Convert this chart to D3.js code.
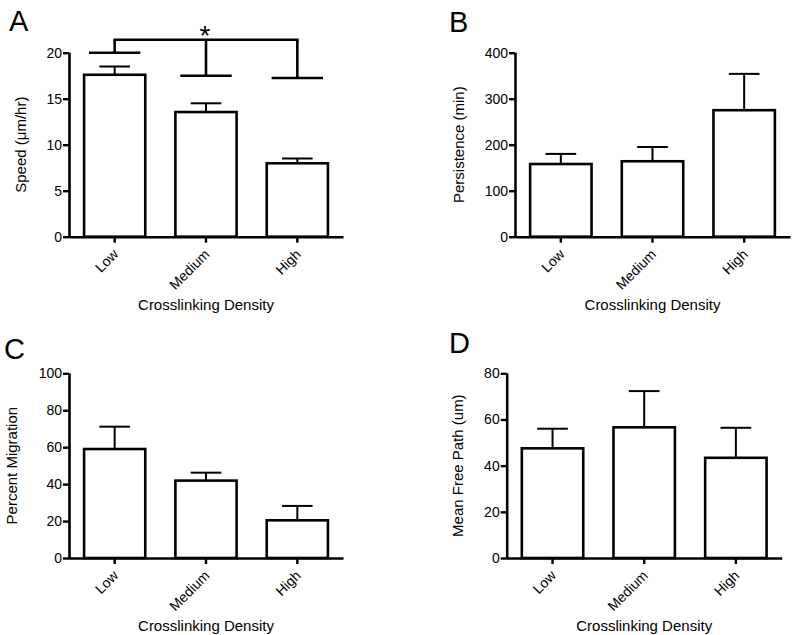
<!DOCTYPE html>
<html>
<head>
<meta charset="utf-8">
<script src="https://cdn.jsdelivr.net/npm/d3@7"></script>
<style>
  html, body { margin: 0; padding: 0; background: #fff; }
  svg { display: block; }
  text { font-family: "Liberation Sans", Arial, Helvetica, sans-serif; fill: #000; }
</style>
</head>
<body>
<svg id="chart" width="800" height="635"></svg>
<script>
// ---- Data ----
const categories = ["Low", "Medium", "High"];

const speedMean = [17.6, 13.55, 7.98];
const speedErr  = [0.9, 0.95, 0.52];
const speedTicks = [0, 5, 10, 15, 20];

const persistenceMean = [158, 164, 275];
const persistenceErr  = [22, 31, 79];
const persistenceTicks = [0, 100, 200, 300, 400];

const migrationMean = [59, 41.9, 20.4];
const migrationErr  = [12.1, 4.3, 7.8];
const migrationTicks = [0, 20, 40, 60, 80, 100];

const mfpMean = [47.5, 56.6, 43.4];
const mfpErr  = [8.5, 15.7, 13];
const mfpTicks = [0, 20, 40, 60, 80];

// significance bracket (panel A): drop levels per category, and top level
const sigLevels = [20, 17.5, 17.25];
const sigTop = 21.4;
const sigLabel = "*";

const xTitle = "Crosslinking Density";

// ---- Drawing ----
const svg = d3.select("#chart");

function panel(cfg) {
  const g = svg.append("g");
  const x = d3.scaleBand().domain(categories)
    .range([cfg.axisX, cfg.axisEnd]).paddingInner(0.33).paddingOuter(0.165);
  const y = d3.scaleLinear().domain([0, cfg.ticks[cfg.ticks.length - 1]])
    .range([cfg.y0, cfg.yTop]);

  const data = categories.map((c, i) => ({ c, m: cfg.mean[i], e: cfg.err[i] }));

  // bars
  g.selectAll("rect.bar").data(data).enter().append("rect")
    .attr("x", d => x(d.c))
    .attr("y", d => y(d.m))
    .attr("width", x.bandwidth())
    .attr("height", d => y(0) - y(d.m))
    .attr("fill", "#fff").attr("stroke", "#000").attr("stroke-width", 2.6);

  // error bars (upper only)
  const cap = x.bandwidth() / 4;
  g.selectAll("line.err").data(data).enter().append("line")
    .attr("x1", d => x(d.c) + x.bandwidth() / 2).attr("x2", d => x(d.c) + x.bandwidth() / 2)
    .attr("y1", d => y(d.m)).attr("y2", d => y(d.m + d.e))
    .attr("stroke", "#000").attr("stroke-width", 2);
  g.selectAll("line.cap").data(data).enter().append("line")
    .attr("x1", d => x(d.c) + x.bandwidth() / 2 - cap).attr("x2", d => x(d.c) + x.bandwidth() / 2 + cap)
    .attr("y1", d => y(d.m + d.e)).attr("y2", d => y(d.m + d.e))
    .attr("stroke", "#000").attr("stroke-width", 2);

  // y axis
  const ya = g.append("g").attr("transform", `translate(${cfg.axisX},0)`)
    .call(d3.axisLeft(y).tickValues(cfg.ticks).tickSize(6).tickSizeOuter(0).tickPadding(1).tickFormat(d3.format("d")));
  ya.attr("font-size", null).attr("font-family", null);
  ya.select(".domain").attr("stroke", "#000").attr("stroke-width", 2.6)
    .attr("d", `M0.5,${cfg.y0 + 1.3}V${cfg.yTop}`);
  ya.selectAll(".tick line").attr("stroke", "#000").attr("stroke-width", 2.4);
  ya.selectAll(".tick text").style("font-size", "14px").attr("fill", "#000");

  // x axis
  const xa = g.append("g").attr("transform", `translate(0,${cfg.y0})`)
    .call(d3.axisBottom(x).tickSize(6).tickSizeOuter(0));
  xa.attr("font-size", null).attr("font-family", null);
  xa.select(".domain").attr("stroke", "#000").attr("stroke-width", 2.6);
  xa.selectAll(".tick line").attr("stroke", "#000").attr("stroke-width", 2.4);
  xa.selectAll(".tick text")
    .style("font-size", "14px").attr("fill", "#000")
    .attr("text-anchor", "end")
    .attr("dy", "0.35em")
    .attr("y", 0)
    .attr("transform", "translate(1,15) rotate(-45)");

  // x title
  g.append("text").attr("x", (cfg.axisX + cfg.axisEnd) / 2).attr("y", cfg.y0 + 73)
    .attr("text-anchor", "middle").style("font-size", "15px").text(xTitle);

  // y title
  g.append("text")
    .attr("transform", `translate(${cfg.axisX - cfg.yTitleOff},${(cfg.y0 + cfg.yTop) / 2}) rotate(-90)`)
    .attr("text-anchor", "middle").attr("dominant-baseline", "central")
    .style("font-size", "15px").text(cfg.yTitle);

  // panel letter
  g.append("text").attr("x", cfg.letterX).attr("y", cfg.letterY)
    .style("font-size", "29px").text(cfg.letter);

  return { g, x, y };
}

const A = panel({ axisX: 69, axisEnd: 343, y0: 236.7, yTop: 52.7, ticks: speedTicks,
  mean: speedMean, err: speedErr, yTitle: "Speed (\u03BCm/hr)", yTitleOff: 49,
  letter: "A", letterX: 9, letterY: 31 });
panel({ axisX: 515, axisEnd: 790, y0: 236.7, yTop: 52.7, ticks: persistenceTicks,
  mean: persistenceMean, err: persistenceErr, yTitle: "Persistence (min)", yTitleOff: 57,
  letter: "B", letterX: 449, letterY: 32 });
panel({ axisX: 69, axisEnd: 343, y0: 558, yTop: 373.3, ticks: migrationTicks,
  mean: migrationMean, err: migrationErr, yTitle: "Percent Migration", yTitleOff: 58,
  letter: "C", letterX: 4, letterY: 359 });
panel({ axisX: 506.7, axisEnd: 781.7, y0: 558, yTop: 373.3, ticks: mfpTicks,
  mean: mfpMean, err: mfpErr, yTitle: "Mean Free Path (um)", yTitleOff: 49,
  letter: "D", letterX: 449, letterY: 353 });

// significance bracket on panel A
(function () {
  const { g, x, y } = A;
  const cx = c => x(c) + x.bandwidth() / 2;
  const half = x.bandwidth() * 0.42;
  const first = categories[0], last = categories[categories.length - 1];
  g.append("line").attr("x1", cx(first) - 1.3).attr("x2", cx(last) + 1.3)
    .attr("y1", y(sigTop)).attr("y2", y(sigTop))
    .attr("stroke", "#000").attr("stroke-width", 2.6);
  categories.forEach((c, i) => {
    g.append("line").attr("x1", cx(c)).attr("x2", cx(c))
      .attr("y1", y(sigTop)).attr("y2", y(sigLevels[i]))
      .attr("stroke", "#000").attr("stroke-width", 2.6);
    g.append("line").attr("x1", cx(c) - half).attr("x2", cx(c) + half)
      .attr("y1", y(sigLevels[i])).attr("y2", y(sigLevels[i]))
      .attr("stroke", "#000").attr("stroke-width", 2.6);
  });
  g.append("text").attr("x", cx(categories[1]) - 1).attr("y", y(sigTop) + 5)
    .attr("text-anchor", "middle").style("font-size", "28px").text(sigLabel);
})();
</script>
</body>
</html>
